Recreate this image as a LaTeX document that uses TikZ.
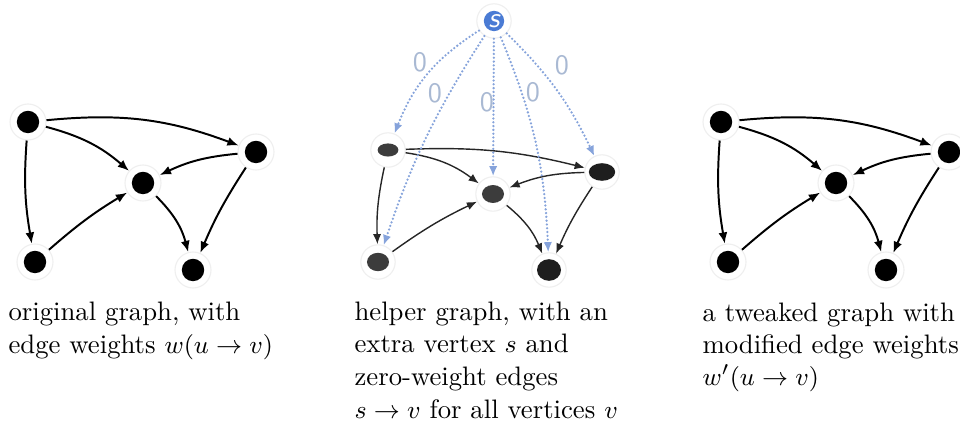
\documentclass[tikz,border=0pt]{standalone}
\usetikzlibrary{arrows.meta}
\definecolor{sblue}{HTML}{4A7BD4}
\definecolor{dotblue}{HTML}{86A3DB}
\definecolor{zerocol}{HTML}{A9B9D3}
\definecolor{halocol}{HTML}{EFEFEF}
\definecolor{dkA}{HTML}{3C3C3C}
\definecolor{dkB}{HTML}{1E1E1E}
\begin{document}
\begin{tikzpicture}[x=0.0125cm,y=-0.0125cm,
  vtx/.style={circle,draw=halocol,line width=0.4pt,fill=white,minimum size=0.45cm,inner sep=0pt,
    path picture={\fill[black] (path picture bounding box.center) circle[radius=0.14cm];}},
  mv/.style n args={3}{circle,draw=halocol,line width=0.4pt,fill=white,minimum size=0.43cm,inner sep=0pt,
    path picture={\fill[#3] (path picture bounding box.center) ellipse[x radius=#1,y radius=#2];}},
  arr/.style={-{Latex[length=4pt,width=3.2pt]},line width=0.7pt,black},
  marr/.style={-{Latex[length=3.6pt,width=2.9pt]},line width=0.5pt,black!85},
  zarr/.style={-{Latex[length=3.6pt,width=3pt]},dotblue,line width=0.9pt,dash pattern=on 0pt off 1.35pt,line cap=round},
  zero/.style={text=zerocol,font=\sffamily\fontsize{10}{10}\selectfont,inner sep=0pt},
  captxt/.style={anchor=base west,inner sep=0pt,font=\fontsize{9.5}{11.7}\selectfont}]
\useasboundingbox (0,0) rectangle (960,426);

% ---------- left graph ----------
\node[vtx] (a1) at (28,122) {};
\node[vtx] (b1) at (256,152) {};
\node[vtx] (c1) at (143,183) {};
\node[vtx] (d1) at (35,262) {};
\node[vtx] (e1) at (193,270) {};
\draw[arr] (a1) to[bend left=13] (b1);
\draw[arr] (a1) to[bend left=13] (c1);
\draw[arr] (a1) to[bend right=7] (d1);
\draw[arr] (d1) to[bend left=5] (c1);
\draw[arr] (b1) to[bend right=10] (c1);
\draw[arr] (b1) to[bend right=5] (e1);
\draw[arr] (c1) to[bend left=15] (e1);

% ---------- right graph ----------
\node[vtx] (a3) at (721,122) {};
\node[vtx] (b3) at (949,152) {};
\node[vtx] (c3) at (836,183) {};
\node[vtx] (d3) at (728,262) {};
\node[vtx] (e3) at (886,270) {};
\draw[arr] (a3) to[bend left=13] (b3);
\draw[arr] (a3) to[bend left=13] (c3);
\draw[arr] (a3) to[bend right=7] (d3);
\draw[arr] (d3) to[bend left=5] (c3);
\draw[arr] (b3) to[bend right=10] (c3);
\draw[arr] (b3) to[bend right=5] (e3);
\draw[arr] (c3) to[bend left=15] (e3);

% ---------- middle graph ----------
\node[mv={0.13cm}{0.082cm}{dkA}] (a2) at (388,150) {};
\node[mv={0.165cm}{0.11cm}{dkB}] (b2) at (602,172) {};
\node[mv={0.138cm}{0.112cm}{dkA}] (c2) at (493,194) {};
\node[mv={0.138cm}{0.115cm}{dkA}] (d2) at (378,262) {};
\node[mv={0.15cm}{0.135cm}{dkB}] (e2) at (549,270) {};
\node[circle,draw=halocol,line width=0.4pt,fill=white,minimum size=0.43cm,inner sep=0pt,
  text=white,font=\sffamily\itshape\fontsize{10}{10}\selectfont,
  path picture={\fill[sblue] (path picture bounding box.center) circle[radius=0.127cm];}] (s) at (494,21) {s};

\draw[marr] (a2) to[bend left=8] (b2);
\draw[marr] (a2) to[bend left=14] (c2);
\draw[marr] (a2) to[bend right=7] (d2);
\draw[marr] (d2) to[bend left=5] (c2);
\draw[marr] (b2) to[bend right=10] (c2);
\draw[marr] (b2) to[bend right=5] (e2);
\draw[marr] (c2) to[bend left=14] (e2);

\draw[zarr] (s) to[bend right=18] (a2);
\draw[zarr] (s) to[bend right=7] (d2);
\draw[zarr] (s) -- (c2);
\draw[zarr] (s) to[bend left=10] (e2);
\draw[zarr] (s) to[bend left=10] (b2);

\node[zero] (z1) at (420,62) {0};
\node[zero] (z2) at (435,93) {0};
\node[zero] (z3) at (487,102) {0};
\node[zero] (z4) at (533,92) {0};
\node[zero] (z5) at (562,65) {0};

% ---------- captions ----------
\node[captxt] (t1a) at (8,321) {original graph, with};
\node[captxt] (t1b) at (8,354) {edge weights $w(u\to v)$};
\node[captxt] (t2a) at (354,321) {helper graph, with an};
\node[captxt] (t2b) at (354,353) {extra vertex $s$ and};
\node[captxt] (t2c) at (354,386) {zero-weight edges};
\node[captxt] (t2d) at (354,418) {$s\to v$ for all vertices $v$};
\node[captxt] (t3a) at (702,322) {a tweaked graph with};
\node[captxt] (t3b) at (702,354) {modified edge weights};
\node[captxt] (t3c) at (702,386) {$w'(u\to v)$};
\end{tikzpicture}
\end{document}
